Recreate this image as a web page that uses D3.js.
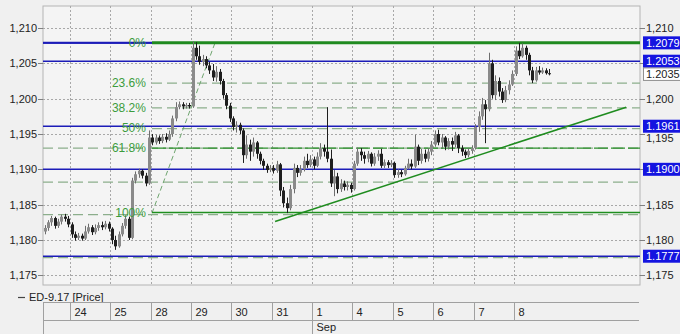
<!DOCTYPE html>
<html><head><meta charset="utf-8">
<script src="https://cdn.jsdelivr.net/npm/d3@7"></script>
<style>
body{margin:0;background:#f0f0f0}
svg{display:block}
text{font-family:"Liberation Sans",Arial,sans-serif;font-size:11px}
</style>
</head><body><svg id="c" width="680" height="334"></svg>
<script>
// ---------------- DATA ----------------
const dayLabels = ["24","25","28","29","30","31","1","4","5","6","7","8"];
const monthLabels = [{day:"1", label:"Sep"}];
const firstDayBar = 8;      // bars of Aug 23 shown before "24"
const barsPerDay = 12;      // 2-hour bars
const yTicks = [1.175,1.180,1.185,1.190,1.195,1.200,1.205,1.210];
const levelLines = [1.2079,1.2053,1.1961,1.1900,1.1777];
const levelBoxes = ["1.2079","1.2053","1.1961","1.1900","1.1777"];
const lastPrice = 1.2035;
const fibNames = ["0%","23.6%","38.2%","50%","61.8%","100%"];
const fibValues = [1.2079,1.2022,1.1987,1.1959,1.1930,1.1838];
const extraDashed = [1.1882,1.1775];
const fibAnchor = [[32.4,1.1838],[51.15,1.2079]];   // [bar position, price]
const trendLine = [[69.0,1.1826],[173.4,1.1988]];
const legendLabel = "ED-9.17 [Price]";
// [open, high, low, close]
const bars = [
[1.1812,1.1821,1.1808,1.1817],[1.1817,1.1828,1.1813,1.1825],[1.1825,1.1834,1.1820,1.1831],[1.1831,1.1833,1.1816,1.1820],
[1.1820,1.1830,1.1817,1.1826],[1.1826,1.1836,1.1822,1.1833],[1.1833,1.1837,1.1826,1.1830],[1.1830,1.1834,1.1818,1.1822],
[1.1822,1.1825,1.1803,1.1808],[1.1808,1.1812,1.1799,1.1803],[1.1803,1.1810,1.1800,1.1806],[1.1806,1.1809,1.1799,1.1802],
[1.1802,1.1820,1.1800,1.1812],[1.1812,1.1823,1.1809,1.1818],[1.1818,1.1821,1.1807,1.1811],[1.1811,1.1822,1.1808,1.1817],
[1.1817,1.1825,1.1813,1.1821],[1.1821,1.1826,1.1814,1.1818],[1.1818,1.1827,1.1815,1.1823],[1.1823,1.1826,1.1812,1.1816],
[1.1816,1.1818,1.1794,1.1800],[1.1800,1.1806,1.1786,1.1791],[1.1791,1.1812,1.1789,1.1808],[1.1808,1.1824,1.1805,1.1820],
[1.1820,1.1835,1.1816,1.1830],[1.1830,1.1833,1.1800,1.1803],[1.1803,1.1888,1.1801,1.1884],[1.1884,1.1897,1.1880,1.1893],
[1.1893,1.1901,1.1888,1.1898],[1.1898,1.1900,1.1887,1.1891],[1.1891,1.1895,1.1876,1.1880],[1.1880,1.1955,1.1878,1.1945],
[1.1945,1.1950,1.1934,1.1938],[1.1938,1.1949,1.1935,1.1945],[1.1945,1.1948,1.1936,1.1940],[1.1940,1.1950,1.1937,1.1946],
[1.1946,1.1951,1.1938,1.1942],[1.1942,1.1955,1.1940,1.1950],[1.1950,1.1976,1.1946,1.1972],[1.1972,1.1995,1.1968,1.1988],
[1.1988,1.1996,1.1985,1.1992],[1.1992,1.1995,1.1985,1.1989],[1.1989,1.1994,1.1986,1.1991],[1.1991,1.1994,1.1986,1.1989],
[1.1989,1.2081,1.1987,1.2072],[1.2072,1.2080,1.2055,1.2060],[1.2060,1.2075,1.2048,1.2052],[1.2052,1.2062,1.2046,1.2056],
[1.2056,1.2060,1.2043,1.2047],[1.2047,1.2052,1.2035,1.2040],[1.2040,1.2049,1.2025,1.2030],[1.2030,1.2046,1.2024,1.2038],
[1.2038,1.2042,1.2020,1.2025],[1.2025,1.2028,1.2000,1.2005],[1.2005,1.2008,1.1985,1.1990],[1.1990,1.1994,1.1967,1.1972],
[1.1972,1.1975,1.1955,1.1960],[1.1960,1.1968,1.1952,1.1963],[1.1963,1.1966,1.1950,1.1955],[1.1955,1.1958,1.1909,1.1920],
[1.1920,1.1948,1.1915,1.1935],[1.1935,1.1942,1.1912,1.1925],[1.1925,1.1945,1.1918,1.1938],[1.1938,1.1940,1.1915,1.1922],
[1.1922,1.1925,1.1907,1.1912],[1.1912,1.1915,1.1899,1.1905],[1.1905,1.1908,1.1895,1.1899],[1.1899,1.1906,1.1896,1.1902],
[1.1902,1.1906,1.1894,1.1898],[1.1898,1.1912,1.1895,1.1907],[1.1907,1.1909,1.1862,1.1870],[1.1870,1.1875,1.1846,1.1852],
[1.1852,1.1860,1.1838,1.1845],[1.1845,1.1878,1.1842,1.1872],[1.1872,1.1908,1.1866,1.1902],[1.1902,1.1906,1.1889,1.1895],
[1.1895,1.1906,1.1891,1.1900],[1.1900,1.1918,1.1897,1.1912],[1.1912,1.1922,1.1902,1.1906],[1.1906,1.1920,1.1903,1.1914],
[1.1914,1.1918,1.1900,1.1905],[1.1905,1.1924,1.1903,1.1918],[1.1918,1.1937,1.1914,1.1930],[1.1930,1.1935,1.1918,1.1925],
[1.1925,1.1988,1.1910,1.1915],[1.1915,1.1928,1.1875,1.1880],[1.1880,1.1899,1.1862,1.1890],[1.1890,1.1895,1.1866,1.1872],
[1.1872,1.1886,1.1868,1.1880],[1.1880,1.1884,1.1870,1.1875],[1.1875,1.1883,1.1870,1.1878],[1.1878,1.1881,1.1867,1.1872],
[1.1872,1.1912,1.1870,1.1908],[1.1908,1.1931,1.1905,1.1925],[1.1925,1.1930,1.1912,1.1920],[1.1920,1.1925,1.1908,1.1915],
[1.1915,1.1926,1.1910,1.1922],[1.1922,1.1924,1.1904,1.1908],[1.1908,1.1923,1.1905,1.1918],[1.1918,1.1927,1.1912,1.1922],
[1.1922,1.1929,1.1902,1.1905],[1.1905,1.1914,1.1902,1.1910],[1.1910,1.1913,1.1902,1.1906],[1.1906,1.1913,1.1903,1.1909],
[1.1909,1.1911,1.1888,1.1892],[1.1892,1.1900,1.1888,1.1896],[1.1896,1.1899,1.1889,1.1893],[1.1893,1.1905,1.1891,1.1902],
[1.1902,1.1915,1.1900,1.1908],[1.1908,1.1914,1.1900,1.1904],[1.1904,1.1949,1.1902,1.1932],[1.1932,1.1935,1.1906,1.1912],
[1.1912,1.1929,1.1908,1.1922],[1.1922,1.1928,1.1910,1.1915],[1.1915,1.1930,1.1911,1.1925],[1.1925,1.1940,1.1920,1.1935],
[1.1935,1.1955,1.1932,1.1950],[1.1950,1.1956,1.1934,1.1938],[1.1938,1.1950,1.1930,1.1945],[1.1945,1.1947,1.1927,1.1932],
[1.1932,1.1944,1.1928,1.1940],[1.1940,1.1945,1.1926,1.1935],[1.1935,1.1953,1.1931,1.1948],[1.1948,1.1950,1.1923,1.1930],
[1.1930,1.1934,1.1919,1.1925],[1.1925,1.1928,1.1916,1.1920],[1.1920,1.1930,1.1917,1.1926],[1.1926,1.1934,1.1922,1.1930],
[1.1930,1.1964,1.1928,1.1960],[1.1960,1.1982,1.1953,1.1975],[1.1975,1.2001,1.1970,1.1992],[1.1992,1.1998,1.1937,1.1985],
[1.1985,1.2065,1.1982,1.2050],[1.2050,1.2055,1.2000,1.2005],[1.2005,1.2033,1.1998,1.2025],[1.2025,1.2030,1.2003,1.2010],
[1.2010,1.2015,1.1994,1.1998],[1.1998,1.2018,1.1995,1.2012],[1.2012,1.2026,1.2006,1.2020],[1.2020,1.2040,1.2018,1.2035],
[1.2035,1.2074,1.2032,1.2068],[1.2068,1.2079,1.2056,1.2060],[1.2060,1.2078,1.2058,1.2072],[1.2072,1.2075,1.2055,1.2062],
[1.2062,1.2065,1.2033,1.2040],[1.2040,1.2045,1.2022,1.2026],[1.2026,1.2045,1.2024,1.2040],[1.2040,1.2046,1.2034,1.2037],
[1.2037,1.2044,1.2035,1.2040],[1.2040,1.2043,1.2034,1.2036],[1.2036,1.2042,1.2033,1.2035]
];

// ---------------- LAYOUT ----------------
const P = {left:43, right:640, top:6, bottom:285};
const svg = d3.select("#c");
const x = d3.scaleLinear().domain([0,177.5]).range([P.left,P.right]);
const y = d3.scaleLinear().domain([1.175,1.210]).range([275.3,28]);
const fmtAxis = v => d3.format(".3f")(v).replace(".",",");

svg.append("rect").attr("width",680).attr("height",334).attr("fill","#f0f0f0");
svg.append("rect").attr("x",P.left).attr("y",P.top).attr("width",P.right-P.left).attr("height",P.bottom-P.top)
  .attr("fill","#f4f4f4").attr("stroke","#b4b4b4").attr("stroke-width",1);

svg.append("clipPath").attr("id","pc").append("rect")
  .attr("x",P.left).attr("y",P.top).attr("width",P.right-P.left).attr("height",P.bottom-P.top);
const g = svg.append("g").attr("clip-path","url(#pc)");

// grid
const dayPos = dayLabels.map((d,k)=>x(firstDayBar+k*barsPerDay));
g.selectAll(".hg").data(yTicks).join("line")
  .attr("x1",P.left).attr("x2",P.right).attr("y1",d=>Math.round(y(d))+0.5).attr("y2",d=>Math.round(y(d))+0.5)
  .attr("stroke","#a8a8a8").attr("stroke-dasharray","2,2");
g.selectAll(".vg").data(dayPos).join("line")
  .attr("x1",d=>Math.round(d)+0.5).attr("x2",d=>Math.round(d)+0.5).attr("y1",P.top).attr("y2",P.bottom)
  .attr("stroke","#a8a8a8").attr("stroke-dasharray","2,2");

// fib dashed lines
const fibStart = x(fibAnchor[0][0]);
const dashCol = "#8cae8c";
fibValues.forEach((v,k)=>{
  const full = k>=4;
  const yy = y(v) + (k===5?1.5:(k===3?1:0));
  if(k===0) return;
  g.append("line").attr("x1",full?P.left:fibStart).attr("x2",P.right).attr("y1",yy).attr("y2",yy)
    .attr("stroke",dashCol).attr("stroke-width",1.3).attr("stroke-dasharray","10,5");
});
extraDashed.forEach(v=>{
  const yy=y(v);
  g.append("line").attr("x1",P.left).attr("x2",P.right).attr("y1",yy).attr("y2",yy)
    .attr("stroke",dashCol).attr("stroke-width",1.3).attr("stroke-dasharray","10,5");
});
// fib diagonal
g.append("line").attr("x1",x(fibAnchor[0][0])).attr("y1",y(fibAnchor[0][1]))
  .attr("x2",x(fibAnchor[1][0])).attr("y2",y(fibAnchor[1][1]))
  .attr("stroke","#6fa56f").attr("stroke-width",1).attr("stroke-dasharray","5,3");

// blue level lines
g.selectAll(".bl").data(levelLines).join("line")
  .attr("x1",P.left).attr("x2",P.right).attr("y1",d=>y(d)).attr("y2",d=>y(d))
  .attr("stroke","#1c1cb8").attr("stroke-width",1.6);

// green fib solid lines
g.append("line").attr("x1",fibStart).attr("x2",P.right).attr("y1",y(fibValues[0])).attr("y2",y(fibValues[0]))
  .attr("stroke","#1f8a1f").attr("stroke-width",3);
g.append("line").attr("x1",fibStart).attr("x2",P.right).attr("y1",y(fibValues[4])).attr("y2",y(fibValues[4]))
  .attr("stroke","#2a8f2a").attr("stroke-width",1.3).attr("stroke-dasharray","14,3");
g.append("line").attr("x1",fibStart).attr("x2",P.right).attr("y1",y(fibValues[5])-0.5).attr("y2",y(fibValues[5])-0.5)
  .attr("stroke","#1f8f1f").attr("stroke-width",1.5);

// fib labels
fibNames.forEach((t,k)=>{
  svg.append("text").attr("x",fibStart-6).attr("y",y(fibValues[k])).attr("dy","0.36em")
    .attr("text-anchor","end").attr("fill","#3c9c3c").style("font-size","12px").text(t);
});
// blue line drawn over 0% label (as in reference)
g.append("line").attr("x1",P.left).attr("x2",fibStart).attr("y1",y(levelLines[0])).attr("y2",y(levelLines[0]))
  .attr("stroke","#1c1cb8").attr("stroke-width",2);

// trend line
g.append("line").attr("x1",x(trendLine[0][0])).attr("y1",y(trendLine[0][1]))
  .attr("x2",x(trendLine[1][0])).attr("y2",y(trendLine[1][1]))
  .attr("stroke","#1f8c1f").attr("stroke-width",1.6);

// candles
const cg = g.append("g");
bars.forEach((b,i)=>{
  const [o,h,l,c]=b;
  const xc = Math.round(x(i+0.5))+0.5;
  const up = c>=o;
  const col = up?"#8a8a8a":"#1e1e1e";
  cg.append("line").attr("x1",xc).attr("x2",xc).attr("y1",y(h)).attr("y2",y(l))
    .attr("stroke",up?"#6e6e6e":"#1e1e1e").attr("stroke-width",1);
  const y1=y(Math.max(o,c)), y2=y(Math.min(o,c));
  cg.append("rect").attr("x",xc-1.5).attr("width",3).attr("y",y1).attr("height",Math.max(1,y2-y1))
    .attr("fill",col);
});

// y axes
const ax = svg.append("g");
yTicks.forEach(v=>{
  const yy=Math.round(y(v))+0.5;
  ax.append("line").attr("x1",38).attr("x2",P.left).attr("y1",yy).attr("y2",yy).attr("stroke","#808080");
  ax.append("line").attr("x1",P.right).attr("x2",P.right+5).attr("y1",yy).attr("y2",yy).attr("stroke","#808080");
  ax.append("text").attr("x",37).attr("y",yy).attr("dy","0.36em").attr("text-anchor","end").attr("fill","#222").text(fmtAxis(v));
  // right-side tick labels that sit fully under a price box are not visible in the reference
  const dist = Math.min(...levelLines.map(l=>Math.abs(y(l)-yy)));
  if(dist>=5){
    ax.append("text").attr("x",P.right+6).attr("y",yy+(dist<9?4:0))
      .attr("dy","0.36em").attr("fill","#222").text(fmtAxis(v));
  }
});
// boxes
levelLines.forEach((v,k)=>{
  const yy=y(v);
  ax.append("rect").attr("x",P.right+3).attr("y",yy-6.5).attr("width",40).attr("height",13).attr("fill","#1414e0");
  ax.append("text").attr("x",P.right+6).attr("y",yy).attr("dy","0.36em").attr("fill","#fff").text(levelBoxes[k]);
});
{
  const yy=y(lastPrice);
  ax.append("rect").attr("x",P.right+3.5).attr("y",yy-6).attr("width",40).attr("height",12.5)
    .attr("fill","#fff").attr("stroke","#909090");
  ax.append("text").attr("x",P.right+6).attr("y",yy).attr("dy","0.36em").attr("fill","#222").text(d3.format(".4f")(lastPrice));
}

// legend
svg.append("line").attr("x1",18).attr("x2",25).attr("y1",297.5).attr("y2",297.5).attr("stroke","#444").attr("stroke-width",1.2);
svg.append("text").attr("x",29).attr("y",301).attr("fill","#222").text(legendLabel);

// bottom axis
const bx = svg.append("g");
bx.append("line").attr("x1",P.left).attr("x2",P.right-1).attr("y1",302.5).attr("y2",302.5).attr("stroke","#a0a0a0");
bx.append("line").attr("x1",P.left).attr("x2",P.right-1).attr("y1",320.5).attr("y2",320.5).attr("stroke","#a0a0a0");
bx.append("line").attr("x1",P.left+0.5).attr("x2",P.left+0.5).attr("y1",302).attr("y2",334).attr("stroke","#a0a0a0");
dayLabels.forEach((d,k)=>{
  const xx=Math.round(dayPos[k])+0.5;
  bx.append("line").attr("x1",xx).attr("x2",xx).attr("y1",302).attr("y2",320).attr("stroke","#a0a0a0");
  bx.append("text").attr("x",xx+4).attr("y",316).attr("fill","#222").text(d);
});
monthLabels.forEach(m=>{
  const k=dayLabels.indexOf(m.day);
  const xx=Math.round(dayPos[k])+0.5;
  bx.append("line").attr("x1",xx).attr("x2",xx).attr("y1",320).attr("y2",334).attr("stroke","#a0a0a0");
  bx.append("text").attr("x",xx+4).attr("y",331).attr("fill","#222").text(m.label);
});
</script>
</body></html>
